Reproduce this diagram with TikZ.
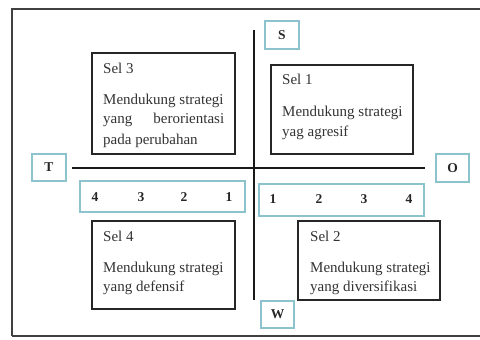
\documentclass[tikz,border=0pt]{standalone}
\usepackage{fontspec}
\setmainfont{Liberation Serif}
\begin{document}
\begin{tikzpicture}[x=1pt,y=-1pt,
  cellbox/.style={draw=black!85, line width=1.4pt, inner sep=0pt, outer sep=0pt},
  axbox/.style={draw=axcol, line width=1.2pt, fill=white, inner sep=0pt, outer sep=0pt},
  celltext/.style={anchor=base west, inner sep=0pt, font=\fontsize{15}{17}\selectfont, text=black!80},
  numtext/.style={anchor=base, inner sep=0pt, font=\fontsize{13.5}{15}\selectfont\bfseries, text=black!85},
  axletter/.style={inner sep=0pt, font=\fontsize{13.5}{15}\selectfont\bfseries, text=black!85},
  axisline/.style={draw=black!90, line width=1.4pt}]
\definecolor{axcol}{RGB}{140,195,205}
\useasboundingbox (0,0) rectangle (480,340);
% outer frame
\draw[draw=black!75, line width=2.2pt] (12,336) -- (12,9) -- (482,9);
\draw[draw=black!75, line width=2.2pt] (12,336) -- (482,336);
% axes
\coordinate (vtop) at (254,30);
\coordinate (vbot) at (254,300);
\coordinate (hleft) at (72,168);
\coordinate (hright) at (425,168);
\draw[axisline] (vtop) -- (vbot);
\draw[axisline] (hleft) -- (hright);
% axis letter boxes
\node[axbox, minimum width=34pt, minimum height=28pt] (S) at (282,35) {};
\node[axletter] (Slab) at (S) {S};
\node[axbox, minimum width=34pt, minimum height=27pt] (T) at (49,167.5) {};
\node[axletter] (Tlab) at (T) {T};
\node[axbox, minimum width=33pt, minimum height=28pt] (O) at (452.5,168) {};
\node[axletter] (Olab) at (O) {O};
\node[axbox, minimum width=33pt, minimum height=27pt] (W) at (277.5,314.5) {};
\node[axletter] (Wlab) at (W) {W};
% number boxes
\node[axbox, minimum width=165pt, minimum height=31pt] (nl) at (162.5,196.5) {};
\node[axbox, minimum width=165pt, minimum height=32pt] (nr) at (341.5,200) {};
\node[numtext] (nl4) at (95,201) {4};
\node[numtext] (nl3) at (141,201) {3};
\node[numtext] (nl2) at (184,201) {2};
\node[numtext] (nl1) at (229,201) {1};
\node[numtext] (nr1) at (273,203) {1};
\node[numtext] (nr2) at (319,203) {2};
\node[numtext] (nr3) at (364,203) {3};
\node[numtext] (nr4) at (409,203) {4};
% cells
\node[cellbox, minimum width=143pt, minimum height=101pt] (c3) at (163.5,103.5) {};
\node[celltext] (c3a) at (103,73) {Sel 3};
\node[celltext] (c3b) at (103,104) {Mendukung strategi};
\node[celltext] (c3c) at (103,123) {\hbox to 121pt{yang\hfill berorientasi}};
\node[celltext] (c3d) at (103,144) {pada perubahan};
\node[cellbox, minimum width=142pt, minimum height=89pt] (c1) at (342,109.5) {};
\node[celltext] (c1a) at (282,84) {Sel 1};
\node[celltext] (c1b) at (282,116) {Mendukung strategi};
\node[celltext] (c1c) at (282,136) {yag agresif};
\node[cellbox, minimum width=143pt, minimum height=88pt] (c4) at (163.5,265) {};
\node[celltext] (c4a) at (103,241) {Sel 4};
\node[celltext] (c4b) at (103,272) {Mendukung strategi};
\node[celltext] (c4c) at (103,291) {yang defensif};
\node[cellbox, minimum width=142pt, minimum height=79pt] (c2) at (369,260.5) {};
\node[celltext] (c2a) at (310,241) {Sel 2};
\node[celltext] (c2b) at (310,272) {Mendukung strategi};
\node[celltext] (c2c) at (310,291) {yang diversifikasi};
\end{tikzpicture}
\end{document}
